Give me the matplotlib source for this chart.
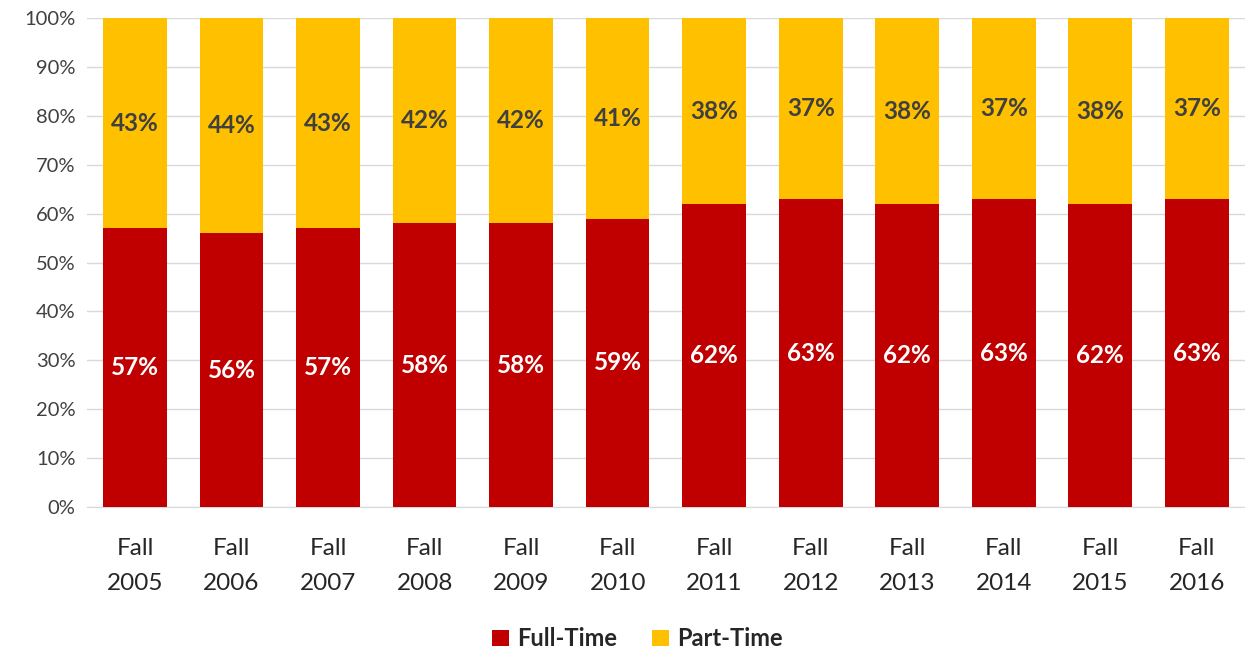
import matplotlib
matplotlib.use("Agg")
import matplotlib.pyplot as plt
from matplotlib.ticker import MultipleLocator, FuncFormatter
import numpy as np

categories = ["Fall\n2005", "Fall\n2006", "Fall\n2007", "Fall\n2008", "Fall\n2009", "Fall\n2010",
              "Fall\n2011", "Fall\n2012", "Fall\n2013", "Fall\n2014", "Fall\n2015", "Fall\n2016"]
full_time = [57, 56, 57, 58, 58, 59, 62, 63, 62, 63, 62, 63]
part_time = [43, 44, 43, 42, 42, 41, 38, 37, 38, 37, 38, 37]

plt.rcParams['font.family'] = ['Lato', 'DejaVu Sans']

fig = plt.figure(figsize=(12.45, 6.5), dpi=100)
ax = fig.add_axes([0.0697, 0.22, 0.9303, 0.752])

x = np.arange(len(categories))
w = 0.66
red = "#C00000"
yellow = "#FFC000"
b1 = ax.bar(x, full_time, width=w, color=red, label="Full-Time", zorder=3)
b2 = ax.bar(x, part_time, width=w, bottom=full_time, color=yellow, label="Part-Time", zorder=3)

for i in range(len(categories)):
    ax.text(x[i], full_time[i] / 2, f"{full_time[i]}%", ha="center", va="center",
            color="white", fontsize=17.5, fontweight="bold", zorder=4)
    ax.text(x[i], full_time[i] + part_time[i] / 2, f"{part_time[i]}%", ha="center", va="center",
            color="#404040", fontsize=17.5, fontweight="bold", zorder=4)

ax.set_xlim(-0.5, len(categories) - 0.5)
ax.set_ylim(0, 100)
ax.yaxis.set_major_locator(MultipleLocator(10))
ax.yaxis.set_major_formatter(FuncFormatter(lambda v, p: f"{int(v)}%"))
ax.grid(axis="y", color="#D9D9D9", linewidth=1, zorder=0)
ax.set_xticks(x)
ax.set_xticklabels(categories, fontsize=17.5, color="#262626", linespacing=1.85)
ax.tick_params(axis="y", labelsize=14.5, colors="#404040", length=0, pad=8)
ax.tick_params(axis="x", length=0, pad=22)
for s in ["top", "right", "left"]:
    ax.spines[s].set_visible(False)
ax.spines["bottom"].set_color("#D9D9D9")

leg = fig.legend(handles=[b1, b2], labels=["Full-Time", "Part-Time"], loc="center",
                 bbox_to_anchor=(0.512, 0.017), ncol=2, frameon=False,
                 prop={"size": 17, "weight": "bold"}, handlelength=0.7, handleheight=0.7,
                 handletextpad=0.35, columnspacing=1.5)
for t in leg.get_texts():
    t.set_color("#262626")

fig.savefig("out.png", dpi=100)
